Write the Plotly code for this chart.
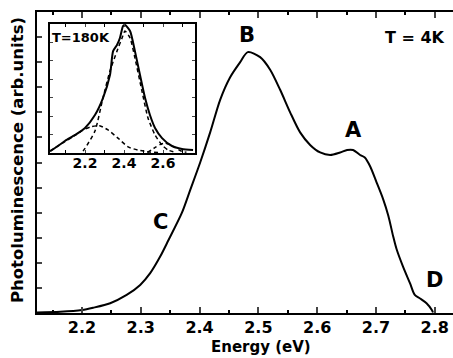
import plotly.graph_objects as go

# ---- main spectrum (T = 4K) ----
main_e = [2.123, 2.163, 2.2, 2.219, 2.248, 2.276, 2.299, 2.316, 2.333, 2.347, 2.370,
          2.384, 2.401, 2.418, 2.435, 2.452, 2.469, 2.482, 2.503, 2.520, 2.537,
          2.554, 2.571, 2.588, 2.605, 2.622, 2.639, 2.651, 2.661, 2.673, 2.681,
          2.690, 2.701, 2.712, 2.721, 2.729, 2.735, 2.746, 2.758, 2.766, 2.775,
          2.786, 2.795, 2.797]
main_i = [0.02, 0.05, 0.12, 0.21, 0.39, 0.72, 1.12, 1.59, 2.25, 2.90, 4.0,
          4.9, 6.0, 7.2, 8.5, 9.4, 10.0, 10.4, 10.2, 9.7, 8.9,
          8.0, 7.2, 6.7, 6.4, 6.3, 6.4, 6.5, 6.5, 6.3, 6.2,
          5.85, 5.21, 4.55, 3.88, 3.08, 2.55, 1.85, 1.18, 0.72, 0.58,
          0.39, 0.12, 0.02]

# ---- inset (T = 180K) ----
ins_e = [2.021, 2.046, 2.097, 2.149, 2.200, 2.251, 2.292, 2.328, 2.344, 2.364,
         2.379, 2.395, 2.405, 2.431, 2.456, 2.482, 2.508, 2.533, 2.559, 2.595,
         2.646, 2.697, 2.754]
ins_i = [0.1, 0.27, 0.65, 0.98, 1.36, 2.06, 2.98, 4.23, 5.53, 5.86,
         6.24, 6.89, 6.95, 6.62, 5.53, 4.23, 2.98, 2.06, 1.36, 0.81,
         0.38, 0.22, 0.16]

fit1_e = [2.190, 2.200, 2.251, 2.292, 2.328, 2.364, 2.390, 2.405, 2.431, 2.456,
          2.492, 2.523, 2.559, 2.595, 2.626, 2.66]
fit1_i = [0.1, 0.25, 1.19, 2.98, 4.45, 5.53, 6.24, 6.62, 6.24, 5.16,
          3.36, 1.90, 0.98, 0.43, 0.16, 0.05]

fit2_e = [2.021, 2.097, 2.149, 2.190, 2.230, 2.275, 2.318, 2.369, 2.421, 2.472, 2.533, 2.58]
fit2_i = [0.1, 0.62, 0.95, 1.25, 1.42, 1.48, 1.25, 0.81, 0.33, 0.16, 0.05, 0.02]

fit3_e = [2.52, 2.56, 2.59, 2.61, 2.635, 2.66, 2.69, 2.72]
fit3_i = [0.03, 0.3, 0.48, 0.54, 0.45, 0.3, 0.12, 0.04]

FONT = "DejaVu Sans"

fig = go.Figure()
fig.add_trace(go.Scatter(x=main_e, y=main_i, mode="lines",
                         line=dict(color="black", width=2, shape="spline", smoothing=0.8),
                         xaxis="x", yaxis="y", showlegend=False))
fig.add_trace(go.Scatter(x=ins_e, y=ins_i, mode="lines",
                         line=dict(color="black", width=2, shape="spline", smoothing=0.6),
                         xaxis="x2", yaxis="y2", showlegend=False))
for fe, fi in [(fit1_e, fit1_i), (fit2_e, fit2_i), (fit3_e, fit3_i)]:
    fig.add_trace(go.Scatter(x=fe, y=fi, mode="lines",
                             line=dict(color="black", width=1.5, dash="4px,3px",
                                       shape="spline", smoothing=0.6),
                             xaxis="x2", yaxis="y2", showlegend=False))

fig.update_layout(
    width=453, height=358,
    margin=dict(l=37, r=0, t=12, b=45),
    paper_bgcolor="white", plot_bgcolor="white",
    font=dict(family=FONT, color="black"),
    xaxis=dict(range=[2.1235, 2.831], dtick=0.1, tick0=2.2, ticks="inside", ticklen=6,
               tickwidth=1.5, showline=True, linewidth=2, linecolor="black",
               mirror="ticks", showgrid=False, zeroline=False, ticklabelstandoff=-1,
               tickfont=dict(family=FONT, size=16, color="black", weight="bold"),
               tickformat=".1f",
               minor=dict(dtick=0.05, tick0=2.2, ticks="inside", ticklen=3,
                          tickwidth=1.5, tickcolor="black", showgrid=False)),
    yaxis=dict(range=[0, 12], dtick=1, ticks="inside", ticklen=5, tickwidth=1.5,
               showticklabels=False, showline=True, linewidth=2, linecolor="black",
               mirror=False, showgrid=False, zeroline=False),
    xaxis2=dict(domain=[0.03125, 0.3798], anchor="y2", range=[2.0205, 2.764],
                dtick=0.2, tick0=2.2, ticks="inside", ticklen=3, tickwidth=1,
                showline=True, linewidth=1.5, linecolor="black", mirror="ticks",
                showgrid=False, zeroline=False, tickformat=".1f", ticklabelstandoff=-4,
                tickfont=dict(family=FONT, size=14, color="black", weight="bold"),
                minor=dict(dtick=0.1, tick0=2.2, ticks="inside", ticklen=3,
                           tickwidth=1, tickcolor="black", showgrid=False)),
    yaxis2=dict(domain=[0.5316, 0.960], anchor="x2", range=[0, 7], dtick=1,
                ticks="inside", ticklen=3, tickwidth=1, showticklabels=False,
                showline=True, linewidth=1.5, linecolor="black", mirror="ticks",
                showgrid=False, zeroline=False),
)

labels = [("B", 2.4806, 11.08, 21), ("A", 2.661, 7.3, 21), ("C", 2.3327, 3.63, 21),
          ("D", 2.8003, 1.32, 21), ("T = 4K", 2.766, 11.0, 16)]
for txt, x, y, s in labels:
    fig.add_annotation(x=x, y=y, xref="x", yref="y", text=f"<b>{txt}</b>",
                       showarrow=False, xanchor="center", yanchor="middle",
                       font=dict(family=FONT, size=s, color="black"))
fig.add_annotation(x=2.179, y=6.29, xref="x2", yref="y2", text="<b>T=180K</b>",
                   showarrow=False, xanchor="center", yanchor="middle",
                   font=dict(family=FONT, size=13, color="black"))
fig.add_annotation(x=0.538, y=-0.146, xref="paper", yref="paper", text="<b>Energy (eV)</b>",
                   showarrow=False, xanchor="center", yanchor="bottom", borderpad=0,
                   font=dict(family=FONT, size=15, color="black"))
fig.add_annotation(x=-0.048, y=0.508, xref="paper", yref="paper",
                   text="<b>Photoluminescence (arb.units)</b>", textangle=-90,
                   showarrow=False, xanchor="center", yanchor="middle",
                   font=dict(family=FONT, size=16.5, color="black"))

fig.write_html("out.html")
